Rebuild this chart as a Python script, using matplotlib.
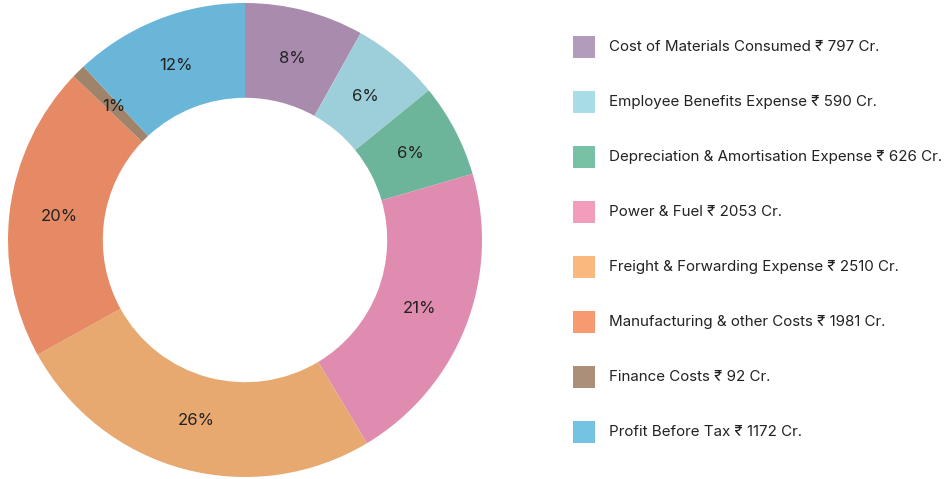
import matplotlib.pyplot as plt
from matplotlib.patches import Rectangle

plt.rcParams['font.family'] = ['Inter', 'DejaVu Sans']

# data
labels = ['Cost of Materials Consumed', 'Employee Benefits Expense',
          'Depreciation & Amortisation Expense', 'Power & Fuel',
          'Freight & Forwarding Expense', 'Manufacturing & other Costs',
          'Finance Costs', 'Profit Before Tax']
values = [797, 590, 626, 2053, 2510, 1981, 92, 1172]

pie_colors = ['#a88bad', '#9dcfdb', '#6db59a', '#e08cb0',
              '#e8a970', '#e58a64', '#a0836b', '#6ab6d9']
legend_colors = ['#b39bbb', '#a8dde8', '#78c1a4', '#f39dbc',
                 '#fab87f', '#f79a72', '#ab8f78', '#74c3e3']

W, H = 952, 479
fig = plt.figure(figsize=(W / 100, H / 100), dpi=100)

# donut axes placed in pixel terms
cx, cy, r = 245, 240, 237
ax = fig.add_axes([(cx - r) / W, 1 - (cy + r) / H, 2 * r / W, 2 * r / H])
wedges, texts, autotexts = ax.pie(
    values, colors=pie_colors, startangle=90, counterclock=False,
    radius=1, wedgeprops=dict(width=0.4, linewidth=0),
    autopct=lambda p: f'{p:.0f}%', pctdistance=0.79)
for t in autotexts:
    t.set_color('#222222')
    t.set_fontsize(12)
ax.set_xlim(-1, 1)
ax.set_ylim(-1, 1)
ax.set_aspect('equal')
ax.axis('off')

# legend drawn on a full-figure overlay axes
lax = fig.add_axes([0, 0, 1, 1])
lax.set_xlim(0, W)
lax.set_ylim(H, 0)
lax.axis('off')
for i, (lab, val) in enumerate(zip(labels, values)):
    y = 47 + i * 55
    lax.add_patch(Rectangle((573, y - 11), 22, 22, color=legend_colors[i], lw=0))
    lax.text(609, y, f'{lab} \u20b9 {val} Cr.', va='center', ha='left',
             fontsize=10.9, color='#222222')

fig.savefig('out.png', dpi=100)
